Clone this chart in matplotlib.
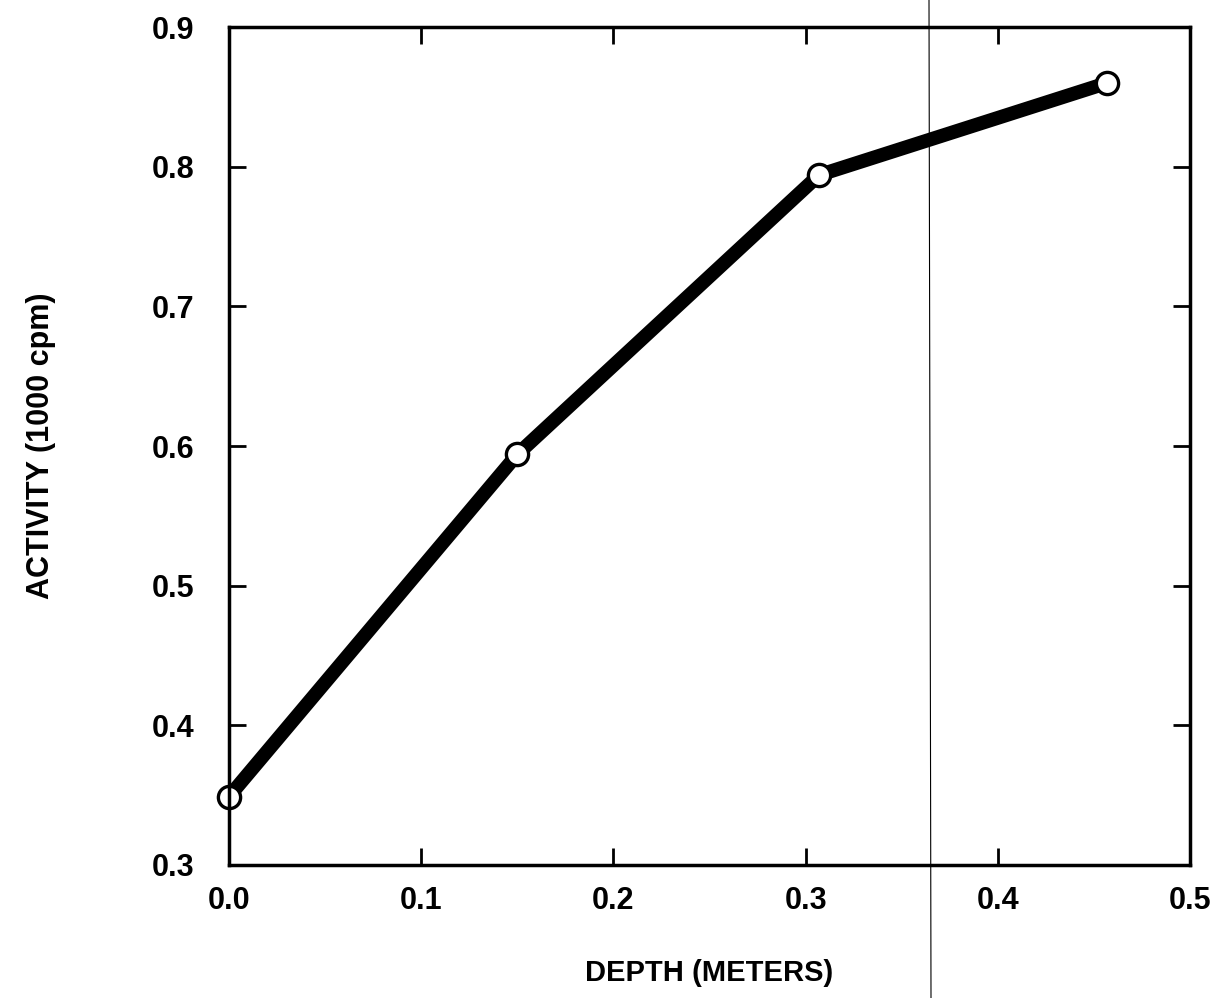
import matplotlib
matplotlib.use('Agg')
import matplotlib.pyplot as plt
from matplotlib.lines import Line2D

depth = [0.0, 0.150, 0.307, 0.457]
activity = [0.349, 0.594, 0.794, 0.860]

xticks = [0.0, 0.1, 0.2, 0.3, 0.4, 0.5]
yticks = [0.3, 0.4, 0.5, 0.6, 0.7, 0.8, 0.9]

plt.rcParams['font.family'] = ['Liberation Sans', 'DejaVu Sans']

fig = plt.figure(figsize=(12.2, 9.98), dpi=100)
ax = fig.add_axes([229 / 1220, 1 - 865 / 998, (1190 - 229) / 1220, (865 - 27) / 998])

ax.plot(depth, activity, color='black', linewidth=10, solid_capstyle='round',
        marker='o', markersize=16, markerfacecolor='white',
        markeredgecolor='black', markeredgewidth=2.4, clip_on=False)

ax.set_xlim(0, 0.5)
ax.set_ylim(0.3, 0.9)
ax.set_xticks(xticks)
ax.set_yticks(yticks)
ax.set_xticklabels(['%.1f' % v for v in xticks], fontsize=22, fontweight='bold')
ax.set_yticklabels(['%.1f' % v for v in yticks], fontsize=22, fontweight='bold')
ax.tick_params(axis='x', direction='in', length=12, width=2, top=True, pad=15)
ax.tick_params(axis='y', direction='in', length=12, width=2, right=True, pad=25)
for s in ax.spines.values():
    s.set_linewidth(2.5)

ax.set_xlabel('DEPTH (METERS)', fontsize=21, fontweight='bold', labelpad=31)
ax.set_ylabel('ACTIVITY (1000 cpm)', fontsize=22, fontweight='bold', labelpad=69)

# thin scan line crossing the page
fig.add_artist(Line2D([929 / 1220, 931 / 1220], [1, 0], transform=fig.transFigure,
                      color='black', linewidth=0.8))

fig.savefig('out.png', dpi=100)
